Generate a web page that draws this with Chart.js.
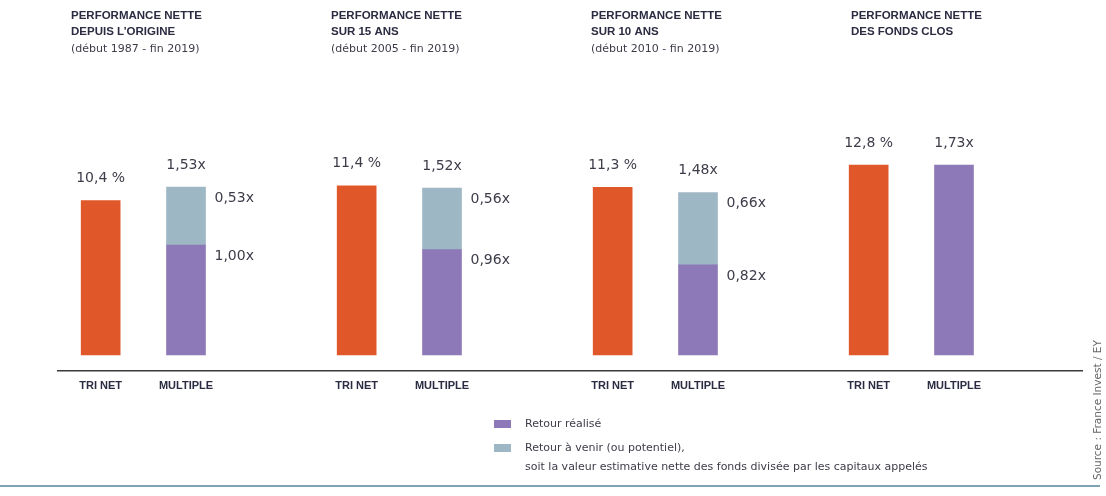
<!DOCTYPE html>
<html>
<head>
<meta charset="utf-8">
<script src="https://cdn.jsdelivr.net/npm/chart.js@4"></script>
<style>
  html, body { margin: 0; padding: 0; background: #fff; }
  #wrap { width: 1106px; height: 496px; }
</style>
</head>
<body>
<div id="wrap"><canvas id="perfChart" width="1106" height="496"></canvas></div>
<script>
// values
const groupTitles = [
  ['PERFORMANCE NETTE', 'DEPUIS L\u2019ORIGINE'],
  ['PERFORMANCE NETTE', 'SUR 15 ANS'],
  ['PERFORMANCE NETTE', 'SUR 10 ANS'],
  ['PERFORMANCE NETTE', 'DES FONDS CLOS']
]
const periods = ['(début 1987 - fin 2019)', '(début 2005 - fin 2019)', '(début 2010 - fin 2019)', '']
const barLabels = ['TRI NET', 'MULTIPLE']
const triNet = [10.4, 11.4, 11.3, 12.8]
const retourRealise = [1.00, 0.96, 0.82, 1.73]
const retourAVenir = [0.53, 0.56, 0.66, 0]
const legendItems = [
  ['Retour réalisé'],
  ['Retour à venir (ou potentiel),', 'soit la valeur estimative nette des fonds divisée par les capitaux appelés']
]
const sourceText = 'Source : France Invest / EY'

const ORANGE = '#E05829'
const PURPLE = '#8D79B7'
const BLUE = '#9EB7C5'
const TEXT = '#3d3d4a'
const NAVY = '#2b2b42'

// one slot per bar plus an empty spacer slot after each group
const labels = []
const triData = []
const realData = []
const venirData = []
for (let g = 0; g < triNet.length; g++) {
  labels.push(barLabels[0], barLabels[1], '')
  triData.push(triNet[g], null, null)
  realData.push(null, retourRealise[g], null)
  venirData.push(null, retourAVenir[g] > 0 ? retourAVenir[g] : null, null)
}

const fmtPct = (v) => v.toFixed(1).replace('.', ',') + ' %'
const fmtX = (v) => v.toFixed(2).replace('.', ',') + 'x'

const annotations = {
  id: 'annotations',
  afterDatasetsDraw (chart) {
    const ctx = chart.ctx
    ctx.save()

    // value labels
    ctx.font = '14px "DejaVu Sans"'
    ctx.fillStyle = TEXT
    ctx.textBaseline = 'middle'
    const triMeta = chart.getDatasetMeta(0)
    const realMeta = chart.getDatasetMeta(1)
    const venirMeta = chart.getDatasetMeta(2)
    for (let g = 0; g < triNet.length; g++) {
      const t = triMeta.data[g * 3]
      ctx.textAlign = 'center'
      ctx.fillText(fmtPct(triNet[g]), t.x, t.y - 22)

      const r = realMeta.data[g * 3 + 1]
      const v = venirMeta.data[g * 3 + 1]
      if (retourAVenir[g] > 0) {
        ctx.fillText(fmtX(retourRealise[g] + retourAVenir[g]), v.x, v.y - 22)
        ctx.textAlign = 'left'
        ctx.fillText(fmtX(retourAVenir[g]), v.x + v.width / 2 + 9, v.y + 11)
        ctx.fillText(fmtX(retourRealise[g]), r.x + r.width / 2 + 9, r.y + 11)
      } else {
        ctx.fillText(fmtX(retourRealise[g]), r.x, r.y - 22)
      }
    }

    // group titles
    ctx.textAlign = 'left'
    for (let g = 0; g < groupTitles.length; g++) {
      const x = 71 + g * 260
      ctx.fillStyle = NAVY
      ctx.font = 'bold 11.5px "Liberation Sans"'
      ctx.fillText(groupTitles[g][0], x, 16)
      ctx.fillText(groupTitles[g][1], x, 32)
      ctx.fillStyle = TEXT
      ctx.font = '11px "DejaVu Sans"'
      ctx.fillText(periods[g], x, 49)
    }

    // legend
    ctx.font = '11px "DejaVu Sans"'
    const legendColors = [PURPLE, BLUE]
    let ly = 424
    legendItems.forEach((item, i) => {
      ctx.fillStyle = legendColors[i]
      ctx.fillRect(494, ly - 4, 17, 8)
      ctx.fillStyle = TEXT
      item.forEach((line, j) => {
        ctx.fillText(line, 525, ly + j * 19)
      })
      ly += 24
    })

    // source, rotated
    ctx.save()
    ctx.translate(1098, 480)
    ctx.rotate(-Math.PI / 2)
    ctx.font = '10.5px "DejaVu Sans"'
    ctx.fillStyle = '#666'
    ctx.fillText(sourceText, 0, 0)
    ctx.restore()

    // bottom rule
    ctx.strokeStyle = '#7FA2B6'
    ctx.lineWidth = 2
    ctx.beginPath()
    ctx.moveTo(0, 486)
    ctx.lineTo(1100, 486)
    ctx.stroke()

    ctx.restore()
  }
}

const config = {
  type: 'bar',
  data: {
    labels: labels,
    datasets: [
      {
        label: 'TRI NET',
        data: triData,
        backgroundColor: ORANGE,
        yAxisID: 'y',
        barThickness: 39,
        skipNull: true
      },
      {
        label: 'Retour réalisé',
        data: realData,
        backgroundColor: PURPLE,
        yAxisID: 'y2',
        barThickness: 39,
        skipNull: true
      },
      {
        label: 'Retour à venir',
        data: venirData,
        backgroundColor: BLUE,
        yAxisID: 'y2',
        barThickness: 39,
        skipNull: true
      }
    ]
  },
  options: {
    responsive: false,
    animation: false,
    layout: {
      padding: { left: 58, right: 24, top: 100, bottom: 0 }
    },
    plugins: {
      legend: { display: false },
      tooltip: { enabled: false }
    },
    scales: {
      x: {
        stacked: true,
        grid: { display: true, drawOnChartArea: false, drawTicks: false },
        border: { display: true, color: '#3a3a3a', width: 1.5 },
        ticks: {
          autoSkip: false,
          maxRotation: 0,
          padding: 8,
          color: NAVY,
          font: { family: 'Liberation Sans', size: 11, weight: 'bold' }
        },
        afterFit: (scale) => { scale.height = 125 }
      },
      y: {
        display: false,
        min: -1.08,
        max: 17.18
      },
      y2: {
        display: false,
        stacked: true,
        min: -0.146,
        max: 2.322
      }
    }
  },
  plugins: [annotations]
}

const canvas = document.getElementById('perfChart').getContext('2d')
window.perfChart = new Chart(canvas, config)
</script>
</body>
</html>
